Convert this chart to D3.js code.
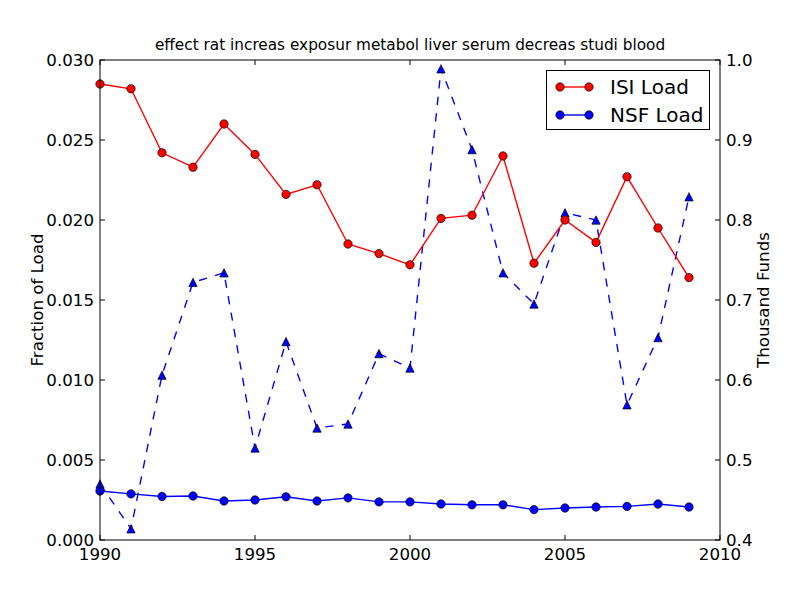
<!DOCTYPE html>
<html><head><meta charset="utf-8">
<script src="https://cdn.jsdelivr.net/npm/d3@7"></script>
<style>body{margin:0;background:#fff}svg{display:block}text{font-family:"DejaVu Sans",sans-serif}</style>
</head><body><svg id="c" width="800" height="600"></svg>
<script>
const years = [1990,1991,1992,1993,1994,1995,1996,1997,1998,1999,2000,2001,2002,2003,2004,2005,2006,2007,2008,2009];
const isiLoad = [0.0285,0.0282,0.0242,0.0233,0.0260,0.0241,0.0216,0.0222,0.0185,0.0179,0.0172,0.0201,0.0203,0.0240,0.0173,0.0200,0.0186,0.0227,0.0195,0.0164];
const nsfLoad = [0.00306,0.00288,0.00272,0.00275,0.00244,0.00250,0.00270,0.00244,0.00263,0.00238,0.00238,0.00225,0.00220,0.00220,0.00190,0.00200,0.00206,0.00210,0.00225,0.00206];
const thousandFunds = [0.470,0.414,0.606,0.722,0.734,0.515,0.648,0.540,0.545,0.633,0.615,0.989,0.888,0.734,0.695,0.809,0.800,0.569,0.653,0.829];
const xTicks = [1990,1995,2000,2005,2010];
const yLeftTicks = [0,0.005,0.010,0.015,0.020,0.025,0.030];
const yRightTicks = [0.4,0.5,0.6,0.7,0.8,0.9,1.0];
const title = "effect rat increas exposur metabol liver serum decreas studi blood";

const svg = d3.select("#c");
const L=100,R=720,T=60,B=540;
const x = d3.scaleLinear().domain([1990,2010]).range([L,R]);
const yL = d3.scaleLinear().domain([0,0.030]).range([B,T]);
const yR = d3.scaleLinear().domain([0.4,1.0]).range([B,T]);
const fs = 16.67;

// axes ticks
const tl = 5;
const gx = svg.append("g");
xTicks.forEach(t=>{
  gx.append("line").attr("x1",x(t)).attr("x2",x(t)).attr("y1",B).attr("y2",B-tl).attr("stroke","#000");
  gx.append("line").attr("x1",x(t)).attr("x2",x(t)).attr("y1",T).attr("y2",T+tl).attr("stroke","#000");
  gx.append("text").attr("x",x(t)).attr("y",B+20).attr("text-anchor","middle").attr("font-size",fs).text(t);
});
yLeftTicks.forEach(t=>{
  gx.append("line").attr("x1",L).attr("x2",L+tl).attr("y1",yL(t)).attr("y2",yL(t)).attr("stroke","#000");
  gx.append("text").attr("x",L-6).attr("y",yL(t)+6).attr("text-anchor","end").attr("font-size",fs).text(d3.format(".3f")(t));
});
yRightTicks.forEach(t=>{
  gx.append("line").attr("x1",R).attr("x2",R-tl).attr("y1",yR(t)).attr("y2",yR(t)).attr("stroke","#000");
  gx.append("text").attr("x",R+6).attr("y",yR(t)+6).attr("text-anchor","start").attr("font-size",fs).text(d3.format(".1f")(t));
});

const lineL = (arr)=>d3.line().x((d,i)=>x(years[i])).y(d=>yL(d))(arr);
const lineR = (arr)=>d3.line().x((d,i)=>x(years[i])).y(d=>yR(d))(arr);

const plot = svg.append("g");

// triangles dashed (right axis)
plot.append("path").attr("d",lineR(thousandFunds)).attr("fill","none").attr("stroke","#0000ff").attr("stroke-width",1.39).attr("stroke-dasharray","8.3,8.3");
const ms = 4.17;
plot.selectAll(".tri").data(thousandFunds).enter().append("path")
  .attr("d",(d,i)=>{const cx=x(years[i]),cy=yR(d);return `M${cx},${cy-ms}L${cx-ms},${cy+ms}L${cx+ms},${cy+ms}Z`;})
  .attr("fill","#0000ff").attr("stroke","#000").attr("stroke-width",0.7);

// ISI
plot.append("path").attr("d",lineL(isiLoad)).attr("fill","none").attr("stroke","#ff0000").attr("stroke-width",1.39);
plot.selectAll(".isi").data(isiLoad).enter().append("circle")
  .attr("cx",(d,i)=>x(years[i])).attr("cy",d=>yL(d)).attr("r",ms).attr("fill","#ff0000").attr("stroke","#000").attr("stroke-width",0.7);
// NSF
plot.append("path").attr("d",lineL(nsfLoad)).attr("fill","none").attr("stroke","#0000ff").attr("stroke-width",1.39);
plot.selectAll(".nsf").data(nsfLoad).enter().append("circle")
  .attr("cx",(d,i)=>x(years[i])).attr("cy",d=>yL(d)).attr("r",ms).attr("fill","#0000ff").attr("stroke","#000").attr("stroke-width",0.7);

// frame
svg.append("rect").attr("x",L).attr("y",T).attr("width",R-L).attr("height",B-T).attr("fill","none").attr("stroke","#000").attr("stroke-width",1);

// title & labels
svg.append("text").attr("x",(L+R)/2).attr("y",T-10).attr("text-anchor","middle").attr("font-size",15.3).text(title);
svg.append("text").attr("transform",`translate(43,${(T+B)/2}) rotate(-90)`).attr("text-anchor","middle").attr("font-size",16.67).text("Fraction of Load");
svg.append("text").attr("transform",`translate(769,${(T+B)/2}) rotate(-90)`).attr("text-anchor","middle").attr("font-size",16.67).text("Thousand Funds");

// legend
const lg = svg.append("g");
lg.append("rect").attr("x",546.5).attr("y",70.5).attr("width",163).attr("height",59).attr("fill","#fff").attr("stroke","#000").attr("stroke-width",1);
const legendItems = [{label:"ISI Load",color:"#ff0000",y:87},{label:"NSF Load",color:"#0000ff",y:115}];
legendItems.forEach(it=>{
  lg.append("line").attr("x1",560).attr("x2",589).attr("y1",it.y).attr("y2",it.y).attr("stroke",it.color).attr("stroke-width",1.39);
  [560,589].forEach(cx=>lg.append("circle").attr("cx",cx).attr("cy",it.y).attr("r",ms).attr("fill",it.color).attr("stroke","#000").attr("stroke-width",0.7));
  lg.append("text").attr("x",610).attr("y",it.y+7).attr("font-size",20).text(it.label);
});
</script></body></html>
